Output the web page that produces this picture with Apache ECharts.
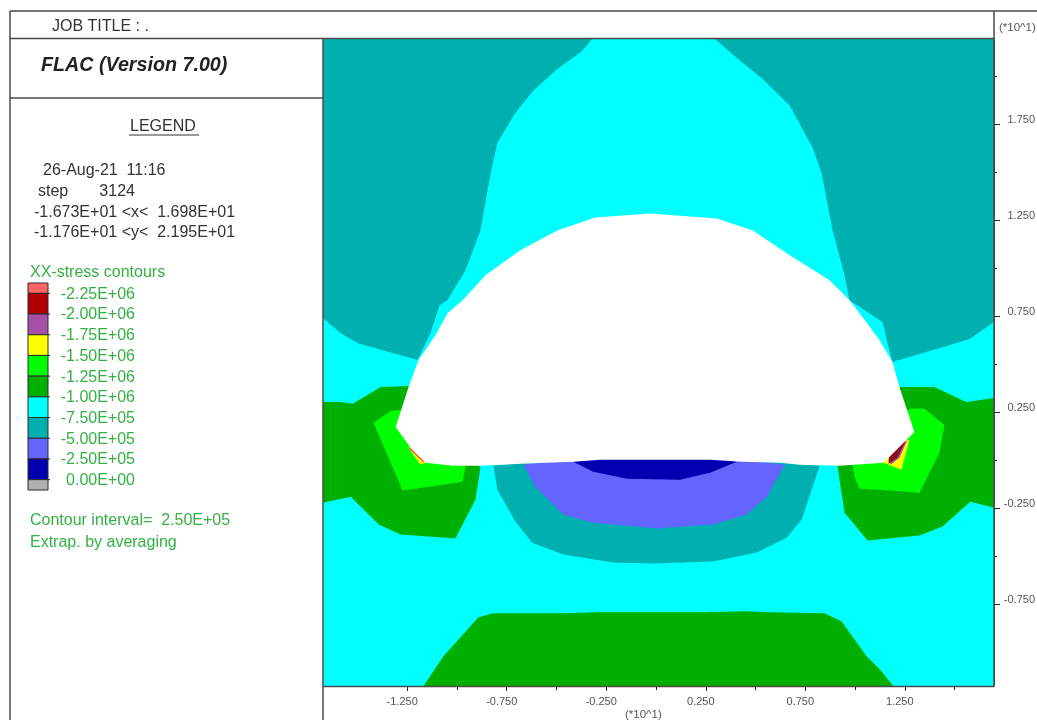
<!DOCTYPE html>
<html>
<head>
<meta charset="utf-8">
<style>html,body{margin:0;padding:0;background:#fff}#c{width:1037px;height:720px}</style>
<script src="https://cdn.jsdelivr.net/npm/echarts@6/dist/echarts.min.js"></script>
</head>
<body>
<div id="c"></div>
<script>
// Axis ranges and ticks (units of 10^1)
var xRange = [-1.673, 1.698];
var yRange = [-1.176, 2.195];
var xMajorTicks = [-1.25, -0.75, -0.25, 0.25, 0.75, 1.25];
var xMinorTicks = [-1.0, -0.5, 0, 0.5, 1.0, 1.5];
var yMajorTicks = [-0.75, -0.25, 0.25, 0.75, 1.25, 1.75];
var yMinorTicks = [-0.5, 0, 0.5, 1.0, 1.5, 2.0];

// Contour regions: [x, y] vertices
var tealTopLeft = [[-1.673,2.195],[-0.321,2.195],[-0.371,2.133],[-0.496,2.039],[-0.617,1.925],[-0.707,1.810],[-0.797,1.655],[-0.817,1.561],[-0.847,1.405],[-0.882,1.197],[-0.957,0.990],[-1.048,0.834],[-1.088,0.808],[-1.133,0.662],[-1.198,0.522],[-1.499,0.610],[-1.584,0.662],[-1.673,0.740]];
var tealTopRight = [[0.296,2.195],[0.406,2.096],[0.536,1.987],[0.672,1.847],[0.787,1.629],[0.832,1.494],[0.887,1.197],[0.947,0.964],[0.972,0.834],[1.138,0.720],[1.163,0.610],[1.188,0.512],[1.574,0.631],[1.698,0.720],[1.698,2.195]];
var greenLeft = [[-1.673,0.304],[-1.584,0.304],[-1.524,0.294],[-1.383,0.382],[-1.243,0.387],[-1.033,0.210],[-0.882,-0.039],[-0.907,-0.205],[-1.008,-0.408],[-1.283,-0.387],[-1.393,-0.335],[-1.534,-0.190],[-1.673,-0.221]];
var greenRight = [[1.223,0.382],[1.398,0.382],[1.559,0.304],[1.698,0.325],[1.698,-0.247],[1.579,-0.216],[1.439,-0.345],[1.323,-0.392],[1.063,-0.418],[0.947,-0.273],[0.912,-0.034],[1.023,0.210]];
var greenBottom = [[-1.168,-1.176],[-1.068,-1.021],[-0.892,-0.818],[-0.817,-0.797],[-0.466,-0.797],[-0.296,-0.792],[0.236,-0.792],[0.446,-0.787],[0.571,-0.792],[0.847,-0.797],[0.932,-0.839],[1.058,-1.021],[1.123,-1.088],[1.193,-1.176]];
var limeLeft = [[-1.419,0.195],[-1.333,0.257],[-1.283,0.262],[-1.083,0.158],[-0.957,0.003],[-0.957,-0.039],[-0.972,-0.112],[-1.273,-0.158]];
var limeRight = [[1.273,0.268],[1.348,0.268],[1.449,0.184],[1.424,0.039],[1.323,-0.169],[1.123,-0.153],[1.023,-0.148],[0.997,-0.086],[0.987,-0.023],[1.123,0.106]];
var yellowLeft = [[-1.218,0.055],[-1.158,-0.013],[-1.183,-0.023],[-1.248,0.070]];
var salmonLeft = [[-1.228,0.070],[-1.158,-0.006],[-1.168,-0.013],[-1.243,0.060]];
var yellowRight = [[1.273,0.106],[1.233,-0.049],[1.143,-0.013],[1.198,0.106]];
var purpleRight = [[1.263,0.106],[1.223,0.013],[1.178,-0.023],[1.173,0.055]];
var darkRedRight = [[1.253,0.101],[1.213,0.013],[1.168,-0.018],[1.173,0.055]];
var tealCentre = [[-0.817,-0.029],[-0.797,-0.153],[-0.707,-0.319],[-0.622,-0.429],[-0.466,-0.491],[-0.216,-0.532],[-0.015,-0.538],[0.286,-0.527],[0.506,-0.481],[0.657,-0.403],[0.732,-0.309],[0.822,-0.029],[0,0.055]];
var violetCentre = [[-0.667,-0.023],[-0.607,-0.138],[-0.466,-0.283],[-0.316,-0.325],[0.005,-0.356],[0.286,-0.335],[0.456,-0.283],[0.556,-0.190],[0.647,-0.023],[0,0.055]];
var navyCentre = [[-0.416,-0.008],[-0.316,-0.060],[-0.145,-0.096],[0.120,-0.101],[0.271,-0.065],[0.406,-0.008],[0,0.055]];
var excavation = [[-0.030,1.286],[0.306,1.260],[0.486,1.197],[0.672,1.068],[0.872,0.938],[0.972,0.834],[1.038,0.745],[1.123,0.626],[1.188,0.512],[1.223,0.382],[1.298,0.148],[1.143,-0.013],[0.922,-0.029],[0.722,-0.023],[0.622,-0.013],[0.436,-0.008],[0.271,0.003],[-0.281,0.003],[-0.416,-0.008],[-0.682,-0.018],[-0.882,-0.029],[-1.018,-0.029],[-1.158,-0.013],[-1.233,0.065],[-1.308,0.174],[-1.243,0.382],[-1.193,0.522],[-1.108,0.652],[-1.048,0.766],[-0.972,0.834],[-0.857,0.964],[-0.682,1.094],[-0.496,1.197],[-0.306,1.265]];

// Legend scale
var legendLower = [-2375000,-2250000,-2000000,-1750000,-1500000,-1250000,-1000000,-750000,-500000,-250000,0];
var legendUpper = [-2250000,-2000000,-1750000,-1500000,-1250000,-1000000,-750000,-500000,-250000,0,125000];
var legendColors = ['#ff6464','#b00000','#a850a8','#ffff00','#00ff00','#00b000','#00ffff','#00b0b0','#6464ff','#0000b0','#b0b0b0'];
var legendLevels = [-2250000,-2000000,-1750000,-1500000,-1250000,-1000000,-750000,-500000,-250000,0];
var legendLabels = ['-2.25E+06','-2.00E+06','-1.75E+06','-1.50E+06','-1.25E+06','-1.00E+06','-7.50E+05','-5.00E+05','-2.50E+05','0.00E+00'];

var cTeal='#00b0b0', cGreen='#00b000', cLime='#00ff00', cYellow='#ffff00', cCyan='#00ffff', cViolet='#6464ff', cNavy='#0000b0';
var LINE='#4a4a4a', TXT='#333333', GRN='#35b045', TICKTXT='#555555';
var FONT='"Liberation Sans",Arial,sans-serif';

function poly(points, color){
  return {
    type:'custom', coordinateSystem:'cartesian2d', xAxisIndex:0, yAxisIndex:0, clip:true, silent:true,
    encode:{x:0,y:1}, data:points,
    renderItem:function(params, api){
      if(params.dataIndex!==0) return null;
      return {type:'polygon', shape:{points:points.map(function(p){return api.coord(p);})}, style:{fill:color}};
    }
  };
}

var series = [
  poly(tealTopLeft,cTeal), poly(tealTopRight,cTeal),
  poly(greenLeft,cGreen), poly(greenRight,cGreen), poly(greenBottom,cGreen),
  poly(limeLeft,cLime), poly(limeRight,cLime),
  poly(yellowLeft,cYellow), poly(salmonLeft,'#e8743c'),
  poly(yellowRight,cYellow), poly(purpleRight,'#a850a8'), poly(darkRedRight,'#8a0c20'),
  poly(tealCentre,cTeal), poly(violetCentre,cViolet), poly(navyCentre,cNavy),
  poly(excavation,'#ffffff'),
  {
    type:'custom', coordinateSystem:'cartesian2d', xAxisIndex:2, yAxisIndex:2, silent:true,
    encode:{x:0,y:1},
    data:legendLower.map(function(v,i){return [0,v,legendUpper[i]];}),
    renderItem:function(params, api){
      var a=api.coord([0,api.value(1)]), b=api.coord([1,api.value(2)]);
      return {type:'rect', shape:{x:a[0],y:a[1],width:b[0]-a[0],height:b[1]-a[1]},
        style:{fill:legendColors[params.dataIndex],stroke:'#2a2a2a',lineWidth:1}};
    }
  },
  {
    type:'custom', coordinateSystem:'cartesian2d', xAxisIndex:2, yAxisIndex:2, silent:true,
    encode:{x:0,y:1},
    data:legendLevels.map(function(v){return [1,v];}),
    renderItem:function(params, api){
      var p=api.coord([1,api.value(1)]);
      return {type:'group',children:[
        {type:'line',shape:{x1:p[0],y1:p[1],x2:p[0]+2,y2:p[1]},style:{stroke:'#2a2a2a',lineWidth:1}},
        {type:'text',style:{text:legendLabels[params.dataIndex],x:p[0]+87,y:p[1]+1,align:'right',verticalAlign:'middle',fill:GRN,font:'16px '+FONT}}
      ]};
    }
  }
];

function txt(s,x,y,color,font){
  return {type:'text',z:50,silent:true,style:{text:s,x:x,y:y,fill:color,font:font,verticalAlign:'middle'}};
}
function ln(x1,y1,x2,y2,w,color){
  return {type:'line',z:40,silent:true,shape:{x1:x1,y1:y1,x2:x2,y2:y2},style:{stroke:color||LINE,lineWidth:w||1.5}};
}
var bodyFont='16px '+FONT;
var graphics=[
  ln(10,11,1037,11), ln(10,11,10,720), ln(10,38.5,994,38.5), ln(10,98,323,98),
  ln(323,38,323,720), ln(994,11,994,686.5), ln(323,686.5,994,686.5),
  ln(129,135,199,135,1.2,'#333'),
  txt('JOB TITLE : .',52,27,TXT,bodyFont),
  txt('FLAC (Version 7.00)',41,66,'#222','italic bold 19.7px '+FONT),
  txt('LEGEND',130,127,TXT,bodyFont),
  txt('26-Aug-21  11:16',43,171,TXT,bodyFont),
  txt('step       3124',38,192,TXT,bodyFont),
  txt('-1.673E+01 <x<  1.698E+01',34,213,TXT,bodyFont),
  txt('-1.176E+01 <y<  2.195E+01',34,233,TXT,bodyFont),
  txt('XX-stress contours',30,273,GRN,bodyFont),
  txt('Contour interval=  2.50E+05',30,521,GRN,bodyFont),
  txt('Extrap. by averaging',30,543,GRN,bodyFont),
  txt('(*10^1)',625,715,TICKTXT,'11.5px '+FONT),
  txt('(*10^1)',999,28,TICKTXT,'11.5px '+FONT)
];

function fmt(v){return v.toFixed(3);}
var xAxes=[
  {gridIndex:0,type:'value',min:xRange[0],max:xRange[1],position:'bottom',
   axisLine:{show:true,onZero:false,lineStyle:{color:LINE}},
   axisTick:{show:true,customValues:xMajorTicks,length:5,lineStyle:{color:'#222'}},
   axisLabel:{show:true,customValues:xMajorTicks,formatter:fmt,margin:10,fontSize:11,color:TICKTXT,fontFamily:FONT,padding:[0,10,0,0]},
   splitLine:{show:false}},
  {gridIndex:0,type:'value',min:xRange[0],max:xRange[1],position:'bottom',
   axisLine:{show:false,onZero:false},
   axisTick:{show:true,customValues:xMinorTicks,length:4,lineStyle:{color:'#222'}},
   axisLabel:{show:false},splitLine:{show:false}},
  {gridIndex:1,type:'value',min:0,max:1,show:false}
];
var yAxes=[
  {gridIndex:0,type:'value',min:yRange[0],max:yRange[1],position:'right',
   axisLine:{show:true,onZero:false,lineStyle:{color:LINE}},
   axisTick:{show:true,customValues:yMajorTicks,length:6,lineStyle:{color:'#222'}},
   axisLabel:{show:true,customValues:yMajorTicks,formatter:fmt,align:'right',verticalAlign:'bottom',lineHeight:8,margin:41,fontSize:11,color:TICKTXT,fontFamily:FONT},
   splitLine:{show:false}},
  {gridIndex:0,type:'value',min:yRange[0],max:yRange[1],position:'right',
   axisLine:{show:false,onZero:false},
   axisTick:{show:true,customValues:yMinorTicks,length:3,lineStyle:{color:'#222'}},
   axisLabel:{show:false},splitLine:{show:false}},
  {gridIndex:1,type:'value',min:-2375000,max:125000,inverse:true,show:false}
];

var chart=echarts.init(document.getElementById('c'),null,{renderer:'canvas'});
chart.setOption({
  animation:false,
  backgroundColor:'#ffffff',
  grid:[
    {left:323,top:39,width:671,height:647,show:true,backgroundColor:cCyan,borderWidth:0,containLabel:false,outerBoundsMode:'none'},
    {left:28,top:283,width:20,height:207,containLabel:false,outerBoundsMode:'none'}
  ],
  xAxis:xAxes,
  yAxis:yAxes,
  series:series,
  graphic:{elements:graphics}
});
</script>
</body>
</html>
